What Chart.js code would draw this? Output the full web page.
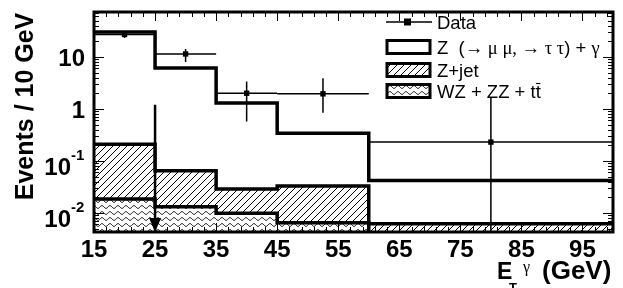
<!DOCTYPE html>
<html>
<head>
<meta charset="utf-8">
<script src="https://cdn.jsdelivr.net/npm/chart.js@4.4.1/dist/chart.umd.min.js"></script>
<style>
html, body { margin: 0; padding: 0; background: #fff; }
#wrap { width: 623px; height: 288px; }
</style>
</head>
<body>
<div id="wrap"><canvas id="chart" width="623" height="288"></canvas></div>
<script>
// bin edges (GeV) and stacked histogram tops per bin
const binEdges = [15, 25, 35, 45, 60, 100];
const zGammaTotal = [30, 6.1, 1.3, 0.34, 0.042];
const zJetTotal = [0.21, 0.065, 0.029, 0.033, 0.0062];
const dibosonTotal = [0.0186, 0.0132, 0.0099, 0.0065, 0.004];

// data points with errors
const dataX = [20, 30, 40, 52.5, 80];
const dataY = [27, 11.4, 2.0, 1.95, 0.23];
const dataXLow = [15, 25, 35, 45, 60];
const dataXHigh = [25, 35, 45, 60, 100];
const dataYLow = [23, 8.0, 0.57, 0.84, 0.001];
const dataYHigh = [31, 14.2, 3.35, 3.9, 1.7];

// upper limit arrow
const limitX = [25];
const limitTop = [1.2];

const xTicks = [15, 25, 35, 45, 55, 65, 75, 85, 95];
const yTicks = [0.01, 0.1, 1, 10];
const yTickBase = ['10', '10', '1', '10'];
const yTickExp = ['-2', '-1', '', ''];

const xMin = 15, xMax = 100;
const yMin = 0.0043, yMax = 73;

const SANS = '"Liberation Sans", Arial, sans-serif';
const SERIF = '"Liberation Serif", "Times New Roman", serif';

function stepPoints(vals) {
    return binEdges.map((x, i) => ({ x: x, y: vals[Math.min(i, vals.length - 1)] }));
}

function makeHatch() {
    const c = document.createElement('canvas');
    c.width = 7; c.height = 7;
    const g = c.getContext('2d');
    g.fillStyle = '#fff';
    g.fillRect(0, 0, 7, 7);
    g.strokeStyle = '#000';
    g.lineWidth = 1;
    g.beginPath();
    g.moveTo(0, 7); g.lineTo(7, 0);
    g.moveTo(-1, 1); g.lineTo(1, -1);
    g.moveTo(6, 8); g.lineTo(8, 6);
    g.stroke();
    return g.createPattern(c, 'repeat');
}

function makeWave() {
    const c = document.createElement('canvas');
    c.width = 8; c.height = 6;
    const g = c.getContext('2d');
    g.fillStyle = '#fff';
    g.fillRect(0, 0, 8, 6);
    g.strokeStyle = '#000';
    g.lineWidth = 1;
    g.beginPath();
    for (let x = 0; x <= 8; x += 0.5) {
        const y = 3 + 1.4 * Math.sin(x / 8 * Math.PI * 2);
        if (x === 0) g.moveTo(x, y); else g.lineTo(x, y);
    }
    g.stroke();
    return g.createPattern(c, 'repeat');
}

const hatch = makeHatch();
const wave = makeWave();

// error bars for data, drawn just before the markers
const errorBars = {
    id: 'errorBars',
    beforeDatasetDraw(chart, args) {
        if (args.meta.label !== 'Data') return;
        const ctx = chart.ctx, xs = chart.scales.x, ys = chart.scales.y, a = chart.chartArea;
        ctx.save();
        ctx.beginPath();
        ctx.rect(a.left, a.top, a.right - a.left, a.bottom - a.top);
        ctx.clip();
        ctx.strokeStyle = '#000';
        ctx.lineWidth = 1.5;
        dataX.forEach((x, i) => {
            const px = xs.getPixelForValue(x), py = ys.getPixelForValue(dataY[i]);
            ctx.beginPath();
            ctx.moveTo(xs.getPixelForValue(dataXLow[i]), py);
            ctx.lineTo(xs.getPixelForValue(dataXHigh[i]), py);
            ctx.moveTo(px, ys.getPixelForValue(Math.max(dataYLow[i], yMin)));
            ctx.lineTo(px, ys.getPixelForValue(dataYHigh[i]));
            ctx.stroke();
        });
        ctx.restore();
    },
    afterDatasetDraw(chart, args) {
        if (args.meta.label !== 'Limit') return;
        const ctx = chart.ctx, xs = chart.scales.x, a = chart.chartArea;
        const px = xs.getPixelForValue(limitX[0]);
        ctx.save();
        ctx.fillStyle = '#000';
        ctx.beginPath();
        ctx.moveTo(px - 6, a.bottom - 14);
        ctx.lineTo(px + 6, a.bottom - 14);
        ctx.lineTo(px, a.bottom);
        ctx.closePath();
        ctx.fill();
        ctx.restore();
    }
};

// frame, ticks, labels, legend
const decorations = {
    id: 'decorations',
    afterDraw(chart) {
        const ctx = chart.ctx, xs = chart.scales.x, ys = chart.scales.y, a = chart.chartArea;
        ctx.save();
        ctx.strokeStyle = '#000';
        ctx.fillStyle = '#000';

        // ticks
        ctx.lineWidth = 1;
        ctx.beginPath();
        for (let v = xMin; v <= xMax; v += 2) {
            const px = Math.round(xs.getPixelForValue(v)) + 0.5;
            const len = (v - 15) % 10 === 0 ? 9 : 5;
            ctx.moveTo(px, a.bottom); ctx.lineTo(px, a.bottom - len);
            ctx.moveTo(px, a.top); ctx.lineTo(px, a.top + len);
        }
        for (let e = -3; e <= 1; e++) {
            for (let m = 1; m <= 9; m++) {
                const v = m * Math.pow(10, e);
                if (v < yMin || v > yMax) continue;
                const py = Math.round(ys.getPixelForValue(v)) + 0.5;
                const len = m === 1 ? 10 : 5;
                ctx.moveTo(a.left, py); ctx.lineTo(a.left + len, py);
                ctx.moveTo(a.right, py); ctx.lineTo(a.right - len, py);
            }
        }
        ctx.stroke();

        // frame
        ctx.lineWidth = 3;
        ctx.strokeRect(a.left, a.top, a.right - a.left, a.bottom - a.top);

        // x tick labels
        ctx.font = 'bold 24px ' + SANS;
        ctx.textAlign = 'center';
        ctx.textBaseline = 'alphabetic';
        xTicks.forEach(v => ctx.fillText(String(v), xs.getPixelForValue(v), 257));

        // y tick labels
        yTicks.forEach((v, i) => {
            const py = ys.getPixelForValue(v);
            if (yTickExp[i]) {
                ctx.font = 'bold 24px ' + SANS;
                ctx.textAlign = 'right';
                ctx.fillText(yTickBase[i], 71, py + 14);
                ctx.font = 'bold 15px ' + SANS;
                ctx.textAlign = 'left';
                ctx.fillText(yTickExp[i], 71, py - 1);
            } else {
                ctx.font = 'bold 24px ' + SANS;
                ctx.textAlign = 'right';
                ctx.fillText(yTickBase[i], 85, py + 9);
            }
        });

        // y title
        ctx.save();
        ctx.translate(33, 106.5);
        ctx.rotate(-Math.PI / 2);
        ctx.font = 'bold 25px ' + SANS;
        ctx.textAlign = 'center';
        ctx.fillText('Events / 10 GeV', 0, 0);
        ctx.restore();

        // x title
        ctx.textAlign = 'left';
        ctx.font = 'bold 23px ' + SANS;
        ctx.fillText('E', 497, 279);
        ctx.font = 'bold 13px ' + SANS;
        ctx.fillText('T', 509, 292);
        ctx.font = '16px ' + SERIF;
        ctx.fillText('\u03b3', 523, 272);
        ctx.font = 'bold 26px ' + SANS;
        ctx.fillText('(GeV)', 542, 279);

        // legend
        const lx0 = 387, lx1 = 430, tx = 437;
        const rows = [22, 47, 70, 91];
        const fs = '18.5px ';
        ctx.lineWidth = 1.5;
        ctx.beginPath();
        ctx.moveTo(lx0 - 1, rows[0]); ctx.lineTo(lx1 + 2, rows[0]);
        ctx.stroke();
        ctx.fillRect(404, rows[0] - 3.5, 7, 7);

        ctx.lineWidth = 3;
        [['#fff', rows[1]], [hatch, rows[2]], [wave, rows[3]]].forEach(([fill, y]) => {
            ctx.fillStyle = fill;
            ctx.fillRect(lx0, y - 6.5, lx1 - lx0, 13);
            ctx.strokeRect(lx0, y - 6.5, lx1 - lx0, 13);
        });
        ctx.fillStyle = '#000';

        ctx.font = fs + SANS;
        ctx.fillText('Data', tx, rows[0] + 6.5);
        let x = tx;
        [['Z  (', SANS], ['\u2192 \u03bc \u03bc, \u2192 \u03c4 \u03c4', SERIF], [') + ', SANS], ['\u03b3', SERIF]].forEach(([s, f]) => {
            ctx.font = fs + f;
            ctx.fillText(s, x, rows[1] + 6.5);
            x += ctx.measureText(s).width;
        });
        ctx.font = fs + SANS;
        ctx.fillText('Z+jet', tx, rows[2] + 6.5);
        const wz = 'WZ + ZZ + tt';
        ctx.fillText(wz, tx, rows[3] + 6.5);
        const wEnd = tx + ctx.measureText(wz).width;
        const tW = ctx.measureText('t').width;
        ctx.lineWidth = 1.2;
        ctx.beginPath();
        ctx.moveTo(wEnd - tW + 0.5, rows[3] - 7.5); ctx.lineTo(wEnd - 0.5, rows[3] - 7.5);
        ctx.stroke();

        ctx.restore();
    }
};

new Chart(document.getElementById('chart'), {
    type: 'line',
    data: {
        datasets: [
            {
                label: 'Data',
                data: dataX.map((x, i) => ({ x: x, y: dataY[i] })),
                showLine: false,
                pointStyle: 'rect',
                pointRadius: 3.8,
                backgroundColor: '#000',
                borderColor: '#000',
                borderWidth: 0,
                order: 0
            },
            {
                label: 'Limit',
                data: [{ x: limitX[0], y: limitTop[0] }, { x: limitX[0], y: yMin }],
                borderColor: '#000',
                borderWidth: 2.5,
                pointRadius: 0,
                order: 1
            },
            {
                label: 'WZ + ZZ + tt',
                data: stepPoints(dibosonTotal),
                stepped: true,
                fill: 'start',
                backgroundColor: wave,
                borderColor: '#000',
                borderWidth: 3.5,
                pointRadius: 0,
                order: 2
            },
            {
                label: 'Z+jet',
                data: stepPoints(zJetTotal),
                stepped: true,
                fill: 'start',
                backgroundColor: hatch,
                borderColor: '#000',
                borderWidth: 3.5,
                pointRadius: 0,
                order: 3
            },
            {
                label: 'Z gamma',
                data: stepPoints(zGammaTotal),
                stepped: true,
                fill: false,
                borderColor: '#000',
                borderWidth: 3.5,
                pointRadius: 0,
                order: 4
            }
        ]
    },
    options: {
        responsive: false,
        animation: false,
        devicePixelRatio: 1,
        layout: { padding: { left: 94, right: 10, top: 12, bottom: 56 } },
        scales: {
            x: { type: 'linear', min: xMin, max: xMax, display: false },
            y: { type: 'logarithmic', min: yMin, max: yMax, display: false }
        },
        plugins: {
            legend: { display: false },
            tooltip: { enabled: false }
        }
    },
    plugins: [errorBars, decorations]
});
</script>
</body>
</html>
